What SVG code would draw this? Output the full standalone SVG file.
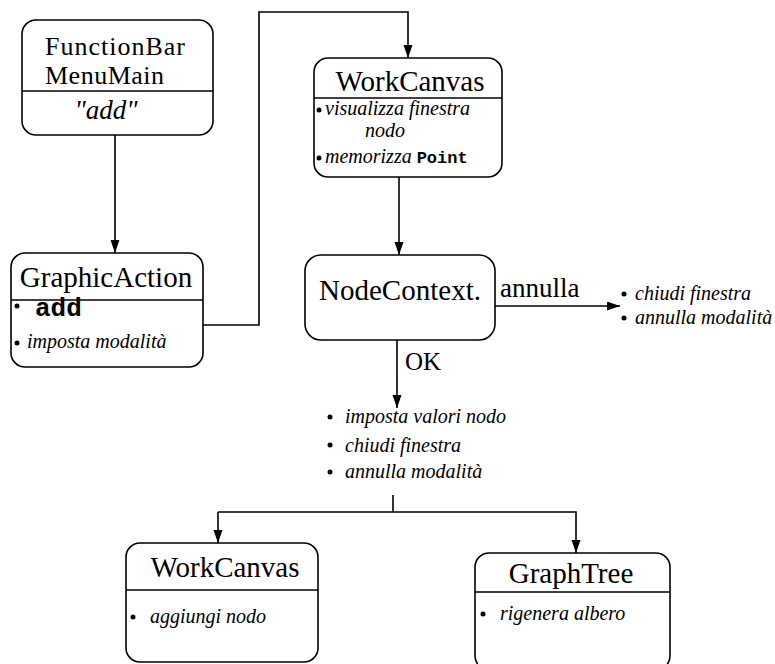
<svg xmlns="http://www.w3.org/2000/svg" width="775" height="664" viewBox="0 0 775 664">
<style>
.box{fill:#fff;stroke:#000;stroke-width:1.6}
.div{stroke:#000;stroke-width:1.6}
.title{font-family:"Liberation Serif",serif;font-size:29px;fill:#000;text-anchor:middle}
.it{font-family:"Liberation Serif",serif;font-style:italic;font-size:20px;fill:#000}
.mono{font-family:"Liberation Mono",monospace;font-weight:bold;fill:#000}
.lab{font-family:"Liberation Serif",serif;fill:#000}
.edge{fill:none;stroke:#000;stroke-width:1.6}
.dot{fill:#000}
</style>
<defs>
<marker id="arr" markerUnits="userSpaceOnUse" markerWidth="14" markerHeight="10" refX="13" refY="4.5" orient="auto">
<path d="M0,0 L13,4.5 L0,9 z" fill="#000"/>
</marker>
</defs>
<rect width="775" height="664" fill="#fff"/>
<g id="connectors">
<path class="edge" d="M115,135 V253" marker-end="url(#arr)"/>
<path class="edge" d="M203,325 H259 V12 H408 V58" marker-end="url(#arr)"/>
<path class="edge" d="M399,177 V255" marker-end="url(#arr)"/>
<path class="edge" d="M495,306 H620" marker-end="url(#arr)"/>
<path class="edge" d="M397,340 V408" marker-end="url(#arr)"/>
<path class="edge" d="M393,495 V512"/>
<path class="edge" d="M218,512 V543" marker-end="url(#arr)"/>
<path class="edge" d="M218,512 H576 V553" marker-end="url(#arr)"/>
<text class="lab" x="500" y="297" font-size="27">annulla</text>
<text class="lab" x="405" y="370" font-size="25">OK</text>
</g>
<g id="functionbar">
<rect class="box" x="22" y="20" width="191" height="115" rx="14"/>
<line class="div" x1="22" y1="91" x2="213" y2="91"/>
<text class="lab" x="45" y="55" font-size="26" letter-spacing="1">FunctionBar</text>
<text class="lab" x="45" y="84" font-size="26" letter-spacing="0.5">MenuMain</text>
<text class="lab" x="106" y="119" font-size="27" font-style="italic" text-anchor="middle">"add"</text>
</g>
<g id="graphicaction">
<rect class="box" x="11" y="253" width="192" height="114" rx="14"/>
<line class="div" x1="11" y1="300" x2="203" y2="300"/>
<text class="title" x="106" y="287" font-size="30">GraphicAction</text>
<circle class="dot" cx="17" cy="306" r="2.5"/>
<text class="mono" x="35" y="316" font-size="26">add</text>
<circle class="dot" cx="17" cy="343" r="2.5"/>
<text class="it" x="27" y="348">imposta modalità</text>
</g>
<g id="workcanvas1">
<rect class="box" x="314" y="58" width="188" height="119" rx="14"/>
<line class="div" x1="314" y1="98" x2="502" y2="98"/>
<text class="title" x="410" y="91">WorkCanvas</text>
<circle class="dot" cx="319" cy="110" r="2.5"/>
<text class="it" x="325" y="115" font-size="21">visualizza finestra</text>
<text class="it" x="385" y="137" font-size="21" text-anchor="middle">nodo</text>
<circle class="dot" cx="319" cy="158" r="2.5"/>
<text class="it" x="325" y="163" font-size="21">memorizza <tspan class="mono" font-style="normal" font-size="17">Point</tspan></text>
</g>
<g id="nodecontext">
<rect class="box" x="305" y="255" width="190" height="85" rx="16"/>
<text class="title" x="400" y="300" font-size="30">NodeContext.</text>
</g>
<g id="annulla-actions">
<circle class="dot" cx="624" cy="294" r="2.5"/>
<text class="it" x="635" y="300" font-size="18.5">chiudi finestra</text>
<circle class="dot" cx="624" cy="318" r="2.5"/>
<text class="it" x="635" y="324" font-size="18.5">annulla modalità</text>
</g>
<g id="ok-actions">
<circle class="dot" cx="330" cy="417" r="2.5"/>
<text class="it" x="345" y="423" font-size="19.5">imposta valori nodo</text>
<circle class="dot" cx="330" cy="445" r="2.5"/>
<text class="it" x="345" y="452" font-size="19.5">chiudi finestra</text>
<circle class="dot" cx="330" cy="472" r="2.5"/>
<text class="it" x="345" y="478" font-size="19.5">annulla modalità</text>
</g>
<g id="workcanvas2">
<rect class="box" x="126" y="543" width="192" height="119" rx="14"/>
<line class="div" x1="126" y1="590" x2="318" y2="590"/>
<text class="title" x="225" y="577">WorkCanvas</text>
<circle class="dot" cx="133" cy="617" r="2.5"/>
<text class="it" x="150" y="623" font-size="19.5">aggiungi nodo</text>
</g>
<g id="graphtree">
<rect class="box" x="475" y="553" width="195" height="117" rx="14"/>
<line class="div" x1="475" y1="592" x2="670" y2="592"/>
<text class="title" x="571" y="583">GraphTree</text>
<circle class="dot" cx="483" cy="614" r="2.5"/>
<text class="it" x="500" y="620" font-size="19.5">rigenera albero</text>
</g>
</svg>
